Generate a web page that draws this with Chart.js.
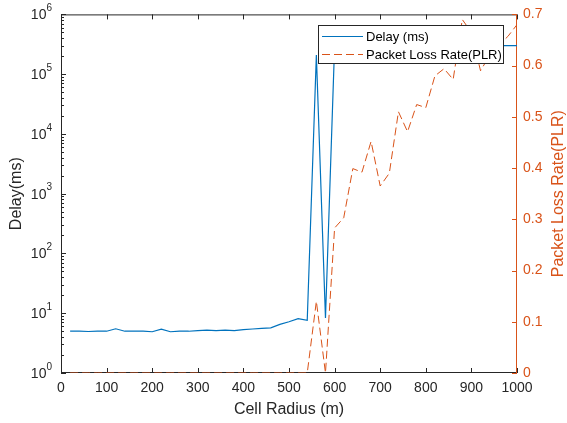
<!DOCTYPE html>
<html>
<head>
<meta charset="utf-8">
<script src="https://cdn.jsdelivr.net/npm/chart.js@4.4.1/dist/chart.umd.min.js"></script>
<style>
  body { margin: 0; background: #fff; }
  #wrap { width: 567px; height: 423px; }
</style>
</head>
<body>
<div id="wrap"><canvas id="myChart" width="567" height="423"></canvas></div>
<script>
// x values - cell radius in metres
const radius = [20, 40, 60, 80, 100, 120, 140, 160, 180, 200,
                220, 240, 260, 280, 300, 320, 340, 360, 380, 400,
                420, 440, 460, 480, 500, 520, 540, 560, 580, 600,
                620, 640, 660, 680, 700, 720, 740, 760, 780, 800,
                820, 840, 860, 880, 900, 920, 940, 960, 980, 1000];

// delay (ms), left log axis
const delay = [5.0, 5.0, 4.95, 5.0, 5.0, 5.5, 5.0, 5.0, 5.0, 4.9,
               5.4, 4.9, 5.0, 5.0, 5.1, 5.2, 5.1, 5.2, 5.1, 5.3,
               5.45, 5.6, 5.7, 6.5, 7.2, 8.1, 7.6, 210000, 8.3, 300000,
               300000, 300000, 300000, 300000, 300000, 300000, 300000, 300000, 300000, 300000,
               300000, 300000, 300000, 300000, 300000, 300000, 300000, 300000, 300000, 300000];

// packet loss rate, right axis
const plr = [0, 0, 0, 0, 0, 0, 0, 0, 0, 0,
             0, 0, 0, 0, 0, 0, 0, 0, 0, 0,
             0, 0, 0, 0, 0, 0, 0, 0.14, 0, 0.283,
             0.303, 0.399, 0.392, 0.452, 0.365, 0.39, 0.51, 0.471, 0.524, 0.518,
             0.58, 0.594, 0.573, 0.69, 0.665, 0.59, 0.62, 0.64, 0.657, 0.68];

// tick values
const xTicks = [0, 100, 200, 300, 400, 500, 600, 700, 800, 900, 1000];
const delayTicks = [1, 10, 100, 1000, 10000, 100000, 1000000];
const delayExp = ['0', '1', '2', '3', '4', '5', '6'];
const plrTicks = [0, 0.1, 0.2, 0.3, 0.4, 0.5, 0.6, 0.7];

const blue = '#0072BD';
const orange = '#D95319';
const axisColor = '#262626';
const fontFam = "'Liberation Sans', Arial, Helvetica, sans-serif";

// draws the matlab style box, inward ticks and the 10^n labels
const axesPlugin = {
	id: 'axesPlugin',
	beforeDatasetsDraw(chart) {
		const ctx = chart.ctx;
		const a = chart.chartArea;
		const x = chart.scales.x;
		const yL = chart.scales.y;
		const yR = chart.scales.y1;
		ctx.save();
		ctx.lineWidth = 1;

		ctx.strokeStyle = axisColor;
		ctx.beginPath();
		// x ticks on bottom and top
		xTicks.forEach(v => {
			const px = Math.round(x.getPixelForValue(v)) + 0.5;
			ctx.moveTo(px, a.bottom);
			ctx.lineTo(px, a.bottom - 5);
			ctx.moveTo(px, a.top);
			ctx.lineTo(px, a.top + 5);
		});
		// left log ticks, major + minor
		delayTicks.forEach((v, i) => {
			const py = Math.round(yL.getPixelForValue(v)) + 0.5;
			ctx.moveTo(a.left, py);
			ctx.lineTo(a.left + 5, py);
			if (i < delayTicks.length - 1) {
				for (let m = 2; m < 10; m++) {
					const my = Math.round(yL.getPixelForValue(v * m)) + 0.5;
					ctx.moveTo(a.left, my);
					ctx.lineTo(a.left + 3, my);
				}
			}
		});
		// frame: left, bottom, top
		ctx.moveTo(a.left + 0.5, a.top);
		ctx.lineTo(a.left + 0.5, a.bottom);
		ctx.moveTo(a.left, a.bottom - 0.5);
		ctx.lineTo(a.right, a.bottom - 0.5);
		ctx.moveTo(a.left, a.top + 0.5);
		ctx.lineTo(a.right, a.top + 0.5);
		ctx.stroke();

		// right axis in orange
		ctx.strokeStyle = orange;
		ctx.beginPath();
		ctx.moveTo(a.right - 0.5, a.top);
		ctx.lineTo(a.right - 0.5, a.bottom);
		plrTicks.forEach(v => {
			const py = Math.round(yR.getPixelForValue(v)) + 0.5;
			ctx.moveTo(a.right, py);
			ctx.lineTo(a.right - 5, py);
		});
		ctx.stroke();

		// left tick labels 10^n
		ctx.fillStyle = axisColor;
		ctx.textBaseline = 'middle';
		delayTicks.forEach((v, i) => {
			const py = yL.getPixelForValue(v);
			ctx.font = '10px ' + fontFam;
			ctx.textAlign = 'left';
			const ew = ctx.measureText(delayExp[i]).width;
			const ex = a.left - 9 - ew;
			ctx.fillText(delayExp[i], ex, py - 6);
			ctx.font = '14px ' + fontFam;
			ctx.textAlign = 'right';
			ctx.fillText('10', ex, py + 1);
		});

		// right axis title, reading bottom to top
		ctx.save();
		ctx.translate(559, (a.top + a.bottom) / 2);
		ctx.rotate(-Math.PI / 2);
		ctx.fillStyle = orange;
		ctx.font = '16px ' + fontFam;
		ctx.textAlign = 'center';
		ctx.textBaseline = 'middle';
		ctx.fillText('Packet Loss Rate(PLR)', 0, 0);
		ctx.restore();

		ctx.restore();
	},
	afterDraw(chart) {
		// legend box inside the plot
		const ctx = chart.ctx;
		ctx.save();
		const lx = 318, ly = 25, lw = 185, lh = 38;
		ctx.fillStyle = '#fff';
		ctx.fillRect(lx, ly, lw, lh);
		ctx.strokeStyle = axisColor;
		ctx.lineWidth = 1;
		ctx.strokeRect(lx + 0.5, ly + 0.5, lw, lh);

		ctx.lineWidth = 1.2;
		ctx.strokeStyle = blue;
		ctx.beginPath();
		ctx.moveTo(322, 36.5);
		ctx.lineTo(363, 36.5);
		ctx.stroke();

		ctx.strokeStyle = orange;
		ctx.lineWidth = 1;
		ctx.setLineDash([8, 4]);
		ctx.beginPath();
		ctx.moveTo(322, 54.5);
		ctx.lineTo(363, 54.5);
		ctx.stroke();
		ctx.setLineDash([]);

		ctx.fillStyle = '#000';
		ctx.font = '13px ' + fontFam;
		ctx.textAlign = 'left';
		ctx.textBaseline = 'middle';
		ctx.fillText('Delay (ms)', 366, 37);
		ctx.fillText('Packet Loss Rate(PLR)', 366, 55);
		ctx.restore();
	}
};

const myChart = document.getElementById('myChart');

let lineChart = new Chart(myChart, {
	type: 'line',
	data: {
		datasets: [
			{
				label: 'Delay (ms)',
				data: radius.map((r, i) => ({ x: r, y: delay[i] })),
				borderColor: blue,
				borderWidth: 1.2,
				pointRadius: 0,
				yAxisID: 'y',
				order: 2
			},
			{
				label: 'Packet Loss Rate(PLR)',
				data: radius.map((r, i) => ({ x: r, y: plr[i] })),
				borderColor: orange,
				borderWidth: 1,
				borderDash: [8, 4],
				pointRadius: 0,
				yAxisID: 'y1',
				order: 1
			}
		]
	},
	options: {
		responsive: false,
		animation: false,
		devicePixelRatio: 1,
		layout: { padding: { top: 12, left: 0, right: 0, bottom: 0 } },
		plugins: {
			legend: { display: false },
			tooltip: { enabled: false }
		},
		scales: {
			x: {
				type: 'linear',
				min: 0,
				max: 1000,
				grid: { display: false, drawTicks: false },
				border: { display: false },
				ticks: {
					stepSize: 100,
					padding: 7,
					maxRotation: 0,
					color: axisColor,
					font: { family: fontFam, size: 14 },
					callback: v => String(v)
				},
				title: {
					display: true,
					text: 'Cell Radius (m)',
					color: axisColor,
					font: { family: fontFam, size: 16 },
					padding: { top: 0, bottom: 4 }
				},
				afterFit: scale => { scale.height = 50; }
			},
			y: {
				type: 'logarithmic',
				position: 'left',
				min: 1,
				max: 1000000,
				grid: { display: false, drawTicks: false },
				border: { display: false },
				afterBuildTicks: scale => {
					scale.ticks = delayTicks.map(v => ({ value: v }));
				},
				ticks: { display: false },
				title: {
					display: true,
					text: 'Delay(ms)',
					color: axisColor,
					font: { family: fontFam, size: 16 },
					padding: { top: 7, bottom: 0 }
				},
				afterFit: scale => { scale.width = 61; }
			},
			y1: {
				type: 'linear',
				position: 'right',
				min: 0,
				max: 0.7,
				grid: { display: false, drawTicks: false },
				border: { display: false },
				afterBuildTicks: scale => {
					scale.ticks = plrTicks.map(v => ({ value: v }));
				},
				ticks: {
					padding: 6,
					color: orange,
					font: { family: fontFam, size: 14 },
					callback: v => v === 0 ? '0' : v.toFixed(1)
				},
				afterFit: scale => { scale.width = 50; }
			}
		}
	},
	plugins: [axesPlugin]
});
</script>
</body>
</html>
